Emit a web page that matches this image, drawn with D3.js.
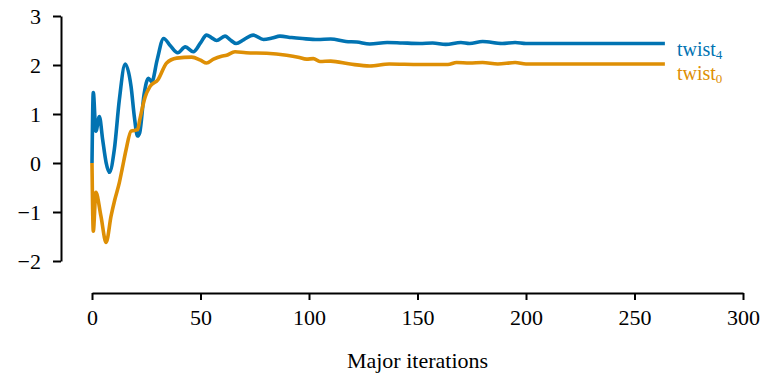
<!DOCTYPE html>
<html>
<head>
<meta charset="utf-8">
<script src="https://cdn.jsdelivr.net/npm/d3@7"></script>
<style>
  body { margin: 0; background: #fff; }
  svg text { font-family: "Liberation Serif", "Times New Roman", Times, serif !important; }
</style>
</head>
<body>
<div id="chart"></div>
<script>
// iteration numbers and the two twist series
var iters4 = [0, 0.6, 1.8, 3.4, 4.9, 6.5, 8, 10.3, 12.6, 15.3, 18, 19.5, 21, 22, 24, 26, 27.6, 30, 33, 36, 39.5, 43, 46.7, 50, 52.8, 55, 57.4, 61.3, 63.5, 66.4, 70, 74.3, 79, 83, 86.6, 92, 97, 104, 110, 117, 122, 128, 136, 143, 151, 157, 163, 170, 174, 180, 189, 195, 200, 210, 230, 250, 264];
var twist4 = [0, 1.44, 0.65, 0.95, 0.48, 0.01, -0.19, 0.28, 1.29, 2.02, 1.56, 0.95, 0.55, 0.62, 1.4, 1.73, 1.66, 2.1, 2.54, 2.4, 2.25, 2.37, 2.27, 2.45, 2.61, 2.56, 2.5, 2.59, 2.52, 2.44, 2.52, 2.61, 2.52, 2.55, 2.59, 2.56, 2.54, 2.52, 2.53, 2.48, 2.47, 2.43, 2.46, 2.45, 2.44, 2.45, 2.42, 2.46, 2.44, 2.48, 2.44, 2.46, 2.44, 2.44, 2.44, 2.44, 2.44];

var iters0 = [0, 0.6, 1.8, 4.1, 6.5, 8.8, 10.5, 12.6, 14, 15.7, 18, 21, 22, 24.5, 26.7, 30.4, 34.4, 39, 45.9, 50, 52.8, 56, 59.7, 62, 65.9, 71, 80.5, 89.7, 95, 98.9, 102, 105, 110, 119, 128, 137, 151, 164, 168, 174, 180, 187, 195, 200, 220, 264];
var twist0 = [0, -1.39, -0.6, -1.08, -1.62, -1.08, -0.75, -0.4, -0.1, 0.27, 0.65, 0.68, 0.88, 1.35, 1.56, 1.7, 2.04, 2.14, 2.16, 2.1, 2.04, 2.12, 2.18, 2.2, 2.27, 2.25, 2.24, 2.2, 2.16, 2.12, 2.13, 2.07, 2.08, 2.02, 1.98, 2.02, 2.01, 2.01, 2.05, 2.04, 2.05, 2.02, 2.05, 2.02, 2.02, 2.02];

var xTicks = [0, 50, 100, 150, 200, 250, 300];
var yTicks = [-2, -1, 0, 1, 2, 3];

var width = 761, height = 377;
var serif = "'Liberation Serif', 'Times New Roman', Times, serif";

var svg = d3.select("#chart").append("svg")
    .attr("width", width)
    .attr("height", height)
    .attr("font-family", serif);

var x = d3.scaleLinear().domain([0, 300]).range([92, 743]);
var y = d3.scaleLinear().domain([-2, 3]).range([261, 16]);

// x axis, offset below the plot
var xAxis = svg.append("g")
    .attr("transform", "translate(0,293)")
    .call(d3.axisBottom(x).tickValues(xTicks).tickFormat(d3.format("d"))
      .tickSize(7).tickSizeOuter(0).tickPadding(9));

// y axis, offset left of the plot
var yAxis = svg.append("g")
    .attr("transform", "translate(61,0)")
    .call(d3.axisLeft(y).tickValues(yTicks).tickFormat(d3.format("d"))
      .tickSize(8).tickSizeOuter(0).tickPadding(12));

[xAxis, yAxis].forEach(function(g) {
  g.attr("font-family", serif).attr("font-size", 22);
  g.select(".domain").attr("stroke", "#000").attr("stroke-width", 2);
  g.selectAll(".tick line").attr("stroke", "#000").attr("stroke-width", 2);
  g.selectAll(".tick text").attr("fill", "#000");
});

svg.append("text")
    .attr("x", (x(0) + x(300)) / 2)
    .attr("y", 368)
    .attr("text-anchor", "middle")
    .attr("font-size", 22)
    .text("Major iterations");

var line = d3.line()
    .x(function(d) { return x(d[0]); })
    .y(function(d) { return y(d[1]); })
    .curve(d3.curveMonotoneX);

var series = [
  {name: "4", xs: iters4, ys: twist4, color: "#0173b2", dy: 12.5},
  {name: "0", xs: iters0, ys: twist0, color: "#de8f05", dy: 16}
];

series.forEach(function(s) {
  var pts = s.xs.map(function(v, i) { return [v, s.ys[i]]; });
  svg.append("path")
      .datum(pts)
      .attr("fill", "none")
      .attr("stroke", s.color)
      .attr("stroke-width", 3.6)
      .attr("stroke-linejoin", "round")
      .attr("d", line);

  var last = pts[pts.length - 1];
  var t = svg.append("text")
      .attr("x", x(last[0]) + 12)
      .attr("y", y(last[1]) + s.dy)
      .attr("fill", s.color)
      .attr("font-size", 20);
  t.append("tspan").text("twist");
  t.append("tspan")
      .attr("dy", 3)
      .attr("font-size", 13)
      .text(s.name);
});
</script>
</body>
</html>
